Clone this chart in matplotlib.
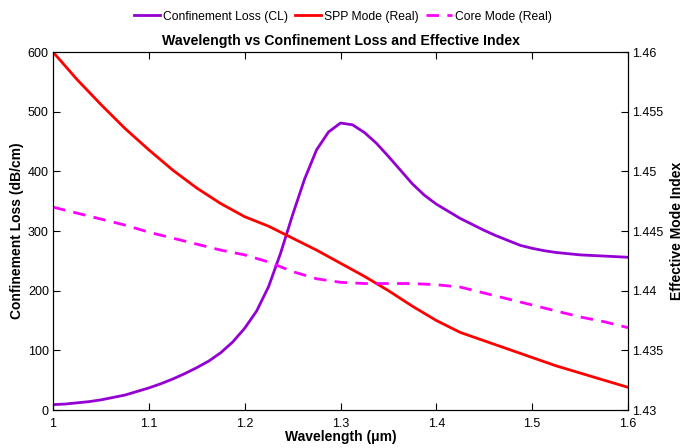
import numpy as np
import matplotlib
matplotlib.use("Agg")
import matplotlib.pyplot as plt

plt.rcParams['font.family'] = ['Liberation Sans', 'DejaVu Sans']

# wavelength samples (um) for the loss curve
wl_cl = [1.0000, 1.0125, 1.0250, 1.0375, 1.0500, 1.0625, 1.0750, 1.0875,
         1.1000, 1.1125, 1.1250, 1.1375, 1.1500, 1.1625, 1.1750, 1.1875,
         1.2000, 1.2125, 1.2250, 1.2375, 1.2500, 1.2625, 1.2750, 1.2875,
         1.3000, 1.3125, 1.3250, 1.3375, 1.3500, 1.3625, 1.3750, 1.3875,
         1.4000, 1.4125, 1.4250, 1.4375, 1.4500, 1.4625, 1.4750, 1.4875,
         1.5000, 1.5125, 1.5250, 1.5375, 1.5500, 1.5625, 1.5750, 1.5875,
         1.6000]

# confinement loss (dB/cm)
cl = [9, 10, 12, 14, 17, 21, 25, 31,
      37, 44, 52, 61, 71, 82, 96, 114,
      137, 166, 207, 263, 327, 387, 436, 466,
      481, 478, 465, 447, 425, 402, 379, 360,
      345, 333, 321, 311, 301, 292, 284, 276,
      271, 267, 264, 262, 260, 259, 258, 257,
      256]

# wavelength samples (um) for the index curves
wl_idx = [1.000, 1.025, 1.050, 1.075, 1.100, 1.125, 1.150, 1.175, 1.200,
          1.225, 1.250, 1.275, 1.300, 1.325, 1.350, 1.375, 1.400, 1.425,
          1.450, 1.475, 1.500, 1.525, 1.550, 1.575, 1.600]

# effective index, SPP mode (real part)
spp_real = [1.4600, 1.4577, 1.4556, 1.4536, 1.4518, 1.4501, 1.4486, 1.4473, 1.4462,
            1.4454, 1.4444, 1.4434, 1.4423, 1.4412, 1.4400, 1.4387, 1.4375, 1.4365,
            1.4358, 1.4351, 1.4344, 1.4337, 1.4331, 1.4325, 1.4319]

# effective index, core mode (real part)
core_real = [1.4470, 1.4465, 1.4460, 1.4455, 1.4449, 1.4444, 1.4439, 1.4434, 1.4430,
             1.4424, 1.4416, 1.4410, 1.4407, 1.4406, 1.4406, 1.4406, 1.4405, 1.4403,
             1.4398, 1.4393, 1.4388, 1.4383, 1.4378, 1.4374, 1.4369]

fig = plt.figure(figsize=(6.85, 4.48), dpi=100)
ax = fig.add_axes([0.0774, 0.0848, 0.8394, 0.7991])
ax2 = ax.twinx()

l1, = ax.plot(wl_cl, cl, color='#9400D3', lw=2, solid_joinstyle='round',
              label='Confinement Loss (CL)')
l2, = ax2.plot(wl_idx, spp_real, color='#FF0000', lw=2, solid_joinstyle='round',
               label='SPP Mode (Real)')
l3, = ax2.plot(wl_idx, core_real, color='#FF00FF', lw=2, dashes=(4.5, 3),
               dash_joinstyle='round', label='Core Mode (Real)')

ax.set_xlim(1, 1.6)
ax.set_ylim(0, 600)
ax2.set_ylim(1.43, 1.46)
ax.set_xticks([1, 1.1, 1.2, 1.3, 1.4, 1.5, 1.6])
ax.set_xticklabels(['1', '1.1', '1.2', '1.3', '1.4', '1.5', '1.6'])
ax.set_yticks([0, 100, 200, 300, 400, 500, 600])
ax2.set_yticks([1.43, 1.435, 1.44, 1.445, 1.45, 1.455, 1.46])
ax2.set_yticklabels(['1.43', '1.435', '1.44', '1.445', '1.45', '1.455', '1.46'])

ax.tick_params(axis='x', direction='in', top=True, length=5, labelsize=9, pad=6)
ax.tick_params(axis='y', direction='in', length=5, labelsize=9, pad=3)
ax2.tick_params(axis='y', direction='in', length=5, labelsize=9, pad=3)

ax.set_xlabel('Wavelength (μm)', fontsize=10, fontweight='bold', labelpad=0)
ax.set_ylabel('Confinement Loss (dB/cm)', fontsize=10, fontweight='bold', labelpad=3)
ax2.set_ylabel('Effective Mode Index', fontsize=10, fontweight='bold', labelpad=5)
ax.set_title('Wavelength vs Confinement Loss and Effective Index',
             fontsize=10.2, fontweight='bold', pad=5)

fig.legend(handles=[l1, l2, l3], loc='center', bbox_to_anchor=(0.5, 0.963),
           ncol=3, frameon=False, fontsize=8.7, handlelength=2.2,
           handletextpad=0.2, columnspacing=0.6)

fig.savefig('out.png', dpi=100)
